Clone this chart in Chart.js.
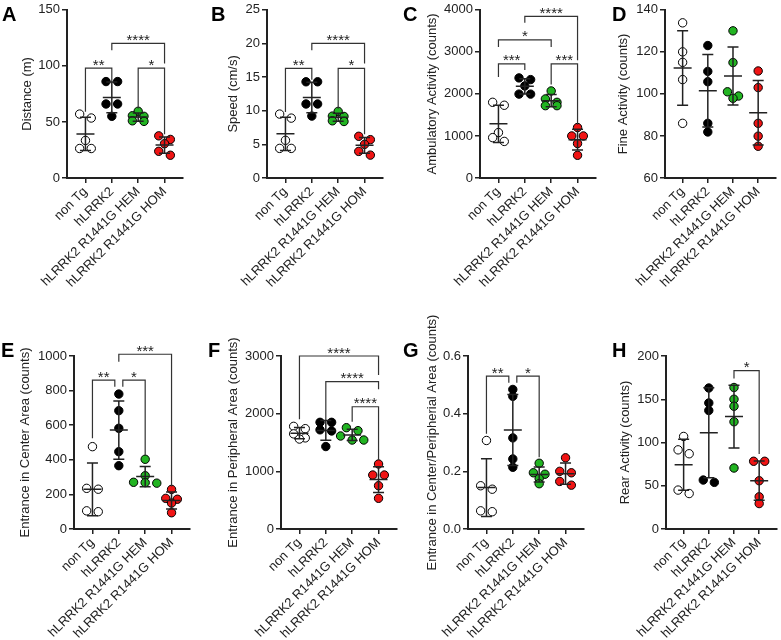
<!DOCTYPE html>
<html>
<head>
<meta charset="utf-8">
<script src="https://cdn.jsdelivr.net/npm/chart.js@4.4.1/dist/chart.umd.min.js"></script>
<style>
  body { margin: 0; background: #fff; width: 781px; height: 640px; position: relative; overflow: hidden; }
  canvas { position: absolute; }
</style>
</head>
<body>
<script>
// groups on the x axis and their dot colours
const groups = ["non Tg", "hLRRK2", "hLRRK2 R1441G HEM", "hLRRK2 R1441G HOM"];
const groupColors = ["#ffffff", "#000000", "#22b422", "#f01414"];

// A - Distance (m)
const distNonTg = [53.5, 57, 33.5, 26.3, 26.3];
const distHLRRK2 = [86, 86, 66, 66, 55];
const distHem = [59.5, 55.5, 55, 51, 50.5];
const distHom = [37.6, 34.4, 30.6, 23.8, 20.3];
const distTicks = [0, 50, 100, 150];
// [from group, to group, bracket top, left leg end, right leg end, label]
const distBrackets = [[1, 2, 98, 59, 85, "**"], [2, 4, 120, 114, 102, "****"], [3, 4, 98, 62, 39, "*"]];

// B - Speed (cm/s)
const speedNonTg = [8.9, 9.5, 5.6, 4.4, 4.4];
const speedHLRRK2 = [14.3, 14.3, 11.0, 11.0, 9.2];
const speedHem = [9.9, 9.2, 9.15, 8.5, 8.4];
const speedHom = [6.2, 5.7, 5.0, 3.95, 3.4];
const speedTicks = [0, 5, 10, 15, 20, 25];
const speedBrackets = [[1, 2, 16.3, 9.8, 14.6, "**"], [2, 4, 20, 19, 17, "****"], [3, 4, 16.3, 10.3, 6.5, "*"]];

// C - Ambulatory Activity (counts)
const ambNonTg = [1800, 1730, 1080, 960, 870];
const ambHLRRK2 = [2380, 2340, 2190, 1995, 1995];
const ambHem = [2070, 1880, 1800, 1720, 1720];
const ambHom = [1200, 1000, 1000, 820, 540];
const ambTicks = [0, 1000, 2000, 3000, 4000];
const ambBrackets = [[1, 2, 2712, 2400, 2570, "***"], [1, 3, 3283, 3114, 3114, "*"], [2, 4, 3845, 3692, 2800, "****"], [3, 4, 2712, 2226, 1264, "***"]];

// D - Fine Activity (counts)
const fineNonTg = [133.8, 120, 115, 106.8, 86];
const fineHLRRK2 = [123, 110.7, 105.8, 86, 81.9];
const fineHem = [130, 114.9, 101, 99, 97.9];
const fineHom = [110.9, 103, 86, 79.9, 75.1];
const fineTicks = [60, 80, 100, 120, 140];
const fineBrackets = [];

// E - Entrance in Center Area (counts)
const centerNonTg = [476, 235, 230, 105, 100];
const centerHLRRK2 = [780, 684, 582, 447, 366];
const centerHem = [403, 308, 270, 268, 265];
const centerHom = [229, 177, 172, 150, 94];
const centerTicks = [0, 200, 400, 600, 800, 1000];
const centerBrackets = [[1, 2, 861, 524, 822, "**"], [2, 3, 861, 822, 428, "*"], [2, 4, 1010, 967, 245, "***"]];

// F - Entrance in Peripheral Area (counts)
const periNonTg = [1780, 1740, 1650, 1580, 1560];
const periHLRRK2 = [1850, 1850, 1720, 1700, 1430];
const periHem = [1757, 1705, 1613, 1543, 1543];
const periHom = [1127, 936, 936, 751, 532];
const periTicks = [0, 1000, 2000, 3000];
const periBrackets = [[1, 4, 3000, 1902, 2670, "****"], [2, 4, 2554, 1890, 2422, "****"], [3, 4, 2120, 1861, 1196, "****"]];

// G - Entrance in Center/Peripherial Area (counts)
const ratioNonTg = [0.307, 0.15, 0.138, 0.063, 0.06];
const ratioHLRRK2 = [0.484, 0.46, 0.316, 0.243, 0.214];
const ratioHem = [0.228, 0.195, 0.19, 0.175, 0.157];
const ratioHom = [0.247, 0.2, 0.195, 0.165, 0.152];
const ratioTicks = [0, 0.2, 0.4, 0.6];
const ratioBrackets = [[1, 2, 0.53, 0.33, 0.507, "**"], [2, 3, 0.53, 0.507, 0.249, "*"]];

// H - Rear Activity (counts)
const rearNonTg = [107, 91.5, 87, 45, 41];
const rearHLRRK2 = [163, 145.7, 137, 56.6, 53.9];
const rearHem = [163.6, 150, 141.9, 124, 70.5];
const rearHom = [78.3, 78.3, 55.8, 37.2, 29.4];
const rearTicks = [0, 50, 100, 150, 200];
const rearBrackets = [[3, 4, 183, 174, 86.8, "*"]];

const FONT = "'Liberation Sans', Arial, Helvetica, sans-serif";
const INK = "#222";
const PLOT_W = 116; // width of every chart area
const PLOT_H = 173; // height of every chart area

const panels = [
  { letter: "A", title: "Distance (m)", data: [distNonTg, distHLRRK2, distHem, distHom], ticks: distTicks, brackets: distBrackets, left: 0, row: 0, yW: 67, titleX: 27, letterX: 2, padR: 6 },
  { letter: "B", title: "Speed (cm/s)", data: [speedNonTg, speedHLRRK2, speedHem, speedHom], ticks: speedTicks, brackets: speedBrackets, left: 190, row: 0, yW: 77, titleX: 43, letterX: 21, padR: 6 },
  { letter: "C", title: "Ambulatory Activity (counts)", data: [ambNonTg, ambHLRRK2, ambHem, ambHom], ticks: ambTicks, brackets: ambBrackets, left: 390, row: 0, yW: 90, titleX: 42, letterX: 13, padR: 6 },
  { letter: "D", title: "Fine Activity (counts)", data: [fineNonTg, fineHLRRK2, fineHem, fineHom], ticks: fineTicks, brackets: fineBrackets, left: 590, row: 0, yW: 75, titleX: 33, letterX: 22, padR: 0 },
  { letter: "E", title: "Entrance in Center Area (counts)", data: [centerNonTg, centerHLRRK2, centerHem, centerHom], ticks: centerTicks, brackets: centerBrackets, left: 0, row: 1, yW: 74, titleX: 25, letterX: 1, padR: 6 },
  { letter: "F", title: "Entrance in Peripheral Area (counts)", data: [periNonTg, periHLRRK2, periHem, periHom], ticks: periTicks, brackets: periBrackets, left: 190, row: 1, yW: 91, titleX: 43, letterX: 18, padR: 6 },
  { letter: "G", title: "Entrance in Center/Peripherial Area (counts)", data: [ratioNonTg, ratioHLRRK2, ratioHem, ratioHom], ticks: ratioTicks, brackets: ratioBrackets, left: 390, row: 1, yW: 78, titleX: 42, letterX: 13, padR: 6, digits: 1 },
  { letter: "H", title: "Rear Activity (counts)", data: [rearNonTg, rearHLRRK2, rearHem, rearHom], ticks: rearTicks, brackets: rearBrackets, left: 590, row: 1, yW: 76, titleX: 35, letterX: 22, padR: 0 }
];

const rows = [
  { top: 0, height: 300, padTop: 5, letterY: 21 },
  { top: 300, height: 340, padTop: 56, letterY: 57 }
];

function mean(a) { return a.reduce((s, v) => s + v, 0) / a.length; }
function sd(a) {
  const m = mean(a);
  return Math.sqrt(a.reduce((s, v) => s + (v - m) * (v - m), 0) / (a.length - 1));
}

// spread dots that would sit on top of each other, prism style
function swarm(vals, pxPerUnit) {
  const order = vals.map((v, i) => i).sort((a, b) => vals[b] - vals[a]);
  const off = new Array(vals.length).fill(0);
  let row = [];
  const flush = () => {
    row.forEach((idx, k) => { off[idx] = (k - (row.length - 1) / 2) * 0.44; });
    row = [];
  };
  order.forEach(idx => {
    if (row.length && (vals[row[0]] - vals[idx]) * pxPerUnit >= 4.5) flush();
    row.push(idx);
  });
  flush();
  return off;
}

function makePlugin(p, r) {
  return {
    id: "dotplot" + p.letter,
    afterDatasetsDraw(chart) {
      const ctx = chart.ctx, xs = chart.scales.x, ys = chart.scales.y;
      ctx.save();
      // mean +- SD
      ctx.strokeStyle = INK;
      ctx.lineWidth = 1.5;
      p.data.forEach((vals, i) => {
        const m = mean(vals), s = sd(vals);
        const px = xs.getPixelForValue(i + 1);
        const pm = ys.getPixelForValue(m), pt = ys.getPixelForValue(m + s), pb = ys.getPixelForValue(m - s);
        ctx.beginPath();
        ctx.moveTo(px - 9, pm); ctx.lineTo(px + 9, pm);
        ctx.moveTo(px, pt); ctx.lineTo(px, pb);
        ctx.moveTo(px - 5.5, pt); ctx.lineTo(px + 5.5, pt);
        ctx.moveTo(px - 5.5, pb); ctx.lineTo(px + 5.5, pb);
        ctx.stroke();
      });
      // significance brackets
      ctx.strokeStyle = "#333";
      ctx.lineWidth = 1.2;
      ctx.fillStyle = INK;
      ctx.font = "15px " + FONT;
      ctx.textAlign = "center";
      ctx.textBaseline = "alphabetic";
      p.brackets.forEach(b => {
        const [from, to, top, lEnd, rEnd, label] = b;
        // legs that share a group with a neighbour bracket at the same height are pulled apart
        const nudgeL = p.brackets.some(c => c !== b && c[1] === from && c[2] === top) ? 4 : 0;
        const nudgeR = p.brackets.some(c => c !== b && c[0] === to && c[2] === top) ? -4 : 0;
        const x1 = xs.getPixelForValue(from) + nudgeL;
        const x2 = xs.getPixelForValue(to) + nudgeR;
        const yt = ys.getPixelForValue(top);
        ctx.beginPath();
        ctx.moveTo(x1, ys.getPixelForValue(lEnd));
        ctx.lineTo(x1, yt);
        ctx.lineTo(x2, yt);
        ctx.lineTo(x2, ys.getPixelForValue(rEnd));
        ctx.stroke();
        ctx.fillText(label, (x1 + x2) / 2, yt + 1.5);
      });
      ctx.restore();
    },
    afterDraw(chart) {
      const ctx = chart.ctx, area = chart.chartArea;
      ctx.save();
      ctx.fillStyle = INK;
      ctx.font = "13px " + FONT;
      ctx.textAlign = "center";
      ctx.textBaseline = "middle";
      ctx.translate(p.titleX, (area.top + area.bottom) / 2);
      ctx.rotate(-Math.PI / 2);
      ctx.fillText(p.title, 0, 0);
      ctx.restore();
      ctx.save();
      ctx.fillStyle = "#000";
      ctx.font = "bold 20px " + FONT;
      ctx.textAlign = "left";
      ctx.textBaseline = "alphabetic";
      ctx.fillText(p.letter, p.letterX, r.letterY);
      ctx.restore();
    }
  };
}

panels.forEach(p => {
  const r = rows[p.row];
  const canvas = document.createElement("canvas");
  const w = p.yW + PLOT_W + p.padR;
  canvas.width = w;
  canvas.height = r.height;
  canvas.style.left = p.left + "px";
  canvas.style.top = r.top + "px";
  document.body.appendChild(canvas);

  const yMin = p.ticks[0], yMax = p.ticks[p.ticks.length - 1];
  const pxPerUnit = PLOT_H / (yMax - yMin);
  const datasets = p.data.map((vals, i) => {
    const off = swarm(vals, pxPerUnit);
    return {
      label: groups[i],
      data: vals.map((v, k) => ({ x: i + 1 + off[k], y: v })),
      backgroundColor: groupColors[i],
      borderColor: "#000",
      borderWidth: 1,
      pointRadius: 4.2
    };
  });

  new Chart(canvas, {
    type: "scatter",
    data: { datasets: datasets },
    options: {
      responsive: false,
      animation: false,
      layout: { padding: { top: r.padTop, right: p.padR, left: 0, bottom: 0 } },
      plugins: { legend: { display: false }, tooltip: { enabled: false } },
      scales: {
        x: {
          type: "linear",
          min: 0.3,
          max: 4.7,
          afterBuildTicks: s => { s.ticks = groups.map((g, i) => ({ value: i + 1 })); },
          afterFit: s => { s.height = r.height - r.padTop - PLOT_H; },
          grid: { drawOnChartArea: false, drawTicks: true, tickLength: 5, color: INK, lineWidth: 1.5 },
          border: { color: INK, width: 2 },
          ticks: {
            autoSkip: false, minRotation: 45, maxRotation: 45, padding: 1,
            color: INK, font: { family: FONT, size: 13 },
            callback: v => groups[Math.round(v) - 1]
          }
        },
        y: {
          min: yMin,
          max: yMax,
          afterBuildTicks: s => { s.ticks = p.ticks.map(v => ({ value: v })); },
          afterFit: s => { s.width = p.yW; },
          grid: { drawOnChartArea: false, drawTicks: true, tickLength: 5, color: INK, lineWidth: 1.5 },
          border: { color: INK, width: 2 },
          ticks: {
            padding: 2, color: INK, font: { family: FONT, size: 13 },
            callback: v => p.digits ? v.toFixed(p.digits) : String(v)
          }
        }
      }
    },
    plugins: [makePlugin(p, r)]
  });
});
</script>
</body>
</html>
